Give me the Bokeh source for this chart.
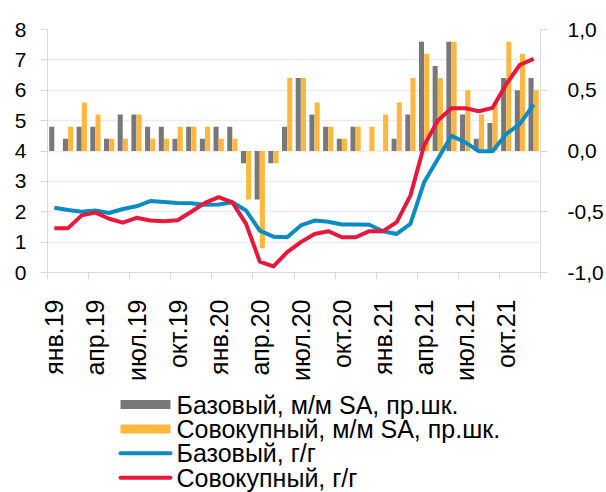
from bokeh.plotting import figure
from bokeh.layouts import column
from bokeh.models import Range1d, LinearAxis, FixedTicker, ColumnDataSource
from bokeh.core.properties import value
from bokeh.embed import file_html
from bokeh.resources import INLINE

months = ["янв.19", "фев.19", "мар.19", "апр.19", "май.19", "июн.19", "июл.19", "авг.19", "сен.19", "окт.19", "ноя.19", "дек.19",
          "янв.20", "фев.20", "мар.20", "апр.20", "май.20", "июн.20", "июл.20", "авг.20", "сен.20", "окт.20", "ноя.20", "дек.20",
          "янв.21", "фев.21", "мар.21", "апр.21", "май.21", "июн.21", "июл.21", "авг.21", "сен.21", "окт.21", "ноя.21", "дек.21"]

core_mm = [0.2, 0.1, 0.2, 0.2, 0.1, 0.3, 0.3, 0.2, 0.2, 0.1, 0.2, 0.1,
           0.2, 0.2, -0.1, -0.4, -0.1, 0.2, 0.6, 0.3, 0.2, 0.1, 0.2, 0.0,
           0.0, 0.1, 0.3, 0.9, 0.7, 0.9, 0.3, 0.1, 0.23, 0.6, 0.5, 0.6]
headline_mm = [0.0, 0.2, 0.4, 0.3, 0.1, 0.1, 0.3, 0.1, 0.1, 0.2, 0.2, 0.2,
               0.1, 0.1, -0.4, -0.8, -0.1, 0.6, 0.6, 0.4, 0.2, 0.1, 0.2, 0.2,
               0.3, 0.4, 0.6, 0.8, 0.6, 0.9, 0.5, 0.3, 0.4, 0.9, 0.8, 0.5]
core_yy = [2.13, 2.06, 2.00, 2.04, 1.96, 2.09, 2.18, 2.35, 2.32, 2.29, 2.28, 2.23,
           2.24, 2.31, 2.04, 1.38, 1.18, 1.16, 1.55, 1.71, 1.67, 1.58, 1.58, 1.57,
           1.36, 1.27, 1.60, 2.97, 3.74, 4.50, 4.29, 3.99, 3.99, 4.56, 4.89, 5.53]
headline_yy = [1.46, 1.46, 1.88, 1.97, 1.77, 1.64, 1.80, 1.71, 1.69, 1.72, 2.00, 2.29,
               2.48, 2.31, 1.60, 0.36, 0.20, 0.67, 1.00, 1.27, 1.36, 1.16, 1.16, 1.36,
               1.36, 1.66, 2.53, 4.18, 5.00, 5.41, 5.41, 5.31, 5.42, 6.20, 6.84, 7.03]

left_ticks = [0, 1, 2, 3, 4, 5, 6, 7, 8]
right_ticks = [-1.0, -0.5, 0.0, 0.5, 1.0]
right_labels = ["-1,0", "-0,5", "0,0", "0,5", "1,0"]
label_every = 3
legend_labels = ["Базовый, м/м SA, пр.шк.", "Совокупный, м/м SA, пр.шк.", "Базовый, г/г", "Совокупный, г/г"]

FONT = "Liberation Sans"
GRAY = "#78787b"
ORANGE = "#ffb83f"
BLUE = "#0a8bc2"
RED = "#e8173c"
AXIS_C = "#d9d9d9"
GRID_C = "#ececec"

W = 606
BORDER_L, BORDER_R = 47, 66
CHART_H, LEGEND_H = 384, 108

n = len(months)
xc = [i + 0.5 for i in range(n)]
off = 0.19
src = ColumnDataSource(dict(
    xg=[x - off for x in xc], xo=[x + off for x in xc], x=xc,
    core_mm=core_mm, headline_mm=headline_mm, core_yy=core_yy, headline_yy=headline_yy))

p = figure(width=W, height=CHART_H, output_backend="svg", toolbar_location=None,
           x_range=Range1d(0, n), y_range=Range1d(0, 8),
           min_border_left=BORDER_L, min_border_right=BORDER_R, min_border_top=29, min_border_bottom=112)
p.extra_y_ranges = {"right": Range1d(-1, 1)}
p.outline_line_color = None
p.background_fill_color = "white"
p.border_fill_color = "white"

p.xaxis.visible = False
p.yaxis.visible = False

xax = LinearAxis()
xax.ticker = FixedTicker(ticks=[xc[i] for i in range(0, n, label_every)],
                         minor_ticks=[float(i) for i in range(0, n + 1, label_every)])
xax.major_label_overrides = {xc[i]: months[i] for i in range(0, n, label_every)}
xax.major_label_orientation = 3.14159265 / 2
xax.major_tick_in = 0
xax.major_tick_out = 0
xax.minor_tick_in = 0
xax.minor_tick_out = 7
xax.minor_tick_line_color = AXIS_C
xax.axis_line_color = AXIS_C
xax.major_label_text_font = FONT
xax.major_label_text_font_size = "25px"
xax.major_label_text_color = "black"
xax.major_label_standoff = 20
p.add_layout(xax, "below")

lax = LinearAxis()
lax.ticker = FixedTicker(ticks=left_ticks)
lax.major_tick_in = 0
lax.major_tick_out = 7
lax.minor_tick_out = 0
lax.minor_tick_in = 0
lax.major_tick_line_color = AXIS_C
lax.axis_line_color = AXIS_C
lax.major_label_text_font = FONT
lax.major_label_text_font_size = "21px"
lax.major_label_text_color = "black"
lax.major_label_standoff = 14
p.add_layout(lax, "left")

rax = LinearAxis(y_range_name="right")
rax.ticker = FixedTicker(ticks=right_ticks)
rax.major_label_overrides = {t: l for t, l in zip(right_ticks, right_labels)}
rax.major_tick_in = 0
rax.major_tick_out = 7
rax.minor_tick_out = 0
rax.minor_tick_in = 0
rax.major_tick_line_color = AXIS_C
rax.axis_line_color = AXIS_C
rax.major_label_text_font = FONT
rax.major_label_text_font_size = "21px"
rax.major_label_text_color = "black"
rax.major_label_standoff = 20
p.add_layout(rax, "right")

p.xgrid.visible = False
p.ygrid.ticker = FixedTicker(ticks=left_ticks)
p.ygrid.grid_line_color = GRID_C
p.ygrid.grid_line_width = 1.5

bw = 0.37
p.vbar(x="xg", top="core_mm", bottom=0, width=bw, source=src, y_range_name="right",
       fill_color=GRAY, line_color=None)
p.vbar(x="xo", top="headline_mm", bottom=0, width=bw, source=src, y_range_name="right",
       fill_color=ORANGE, line_color=None)
p.line(x="x", y="core_yy", source=src, line_color=BLUE, line_width=4, line_join="round")
p.line(x="x", y="headline_yy", source=src, line_color=RED, line_width=4, line_join="round")

# Legend panel: a frame whose units are pixels (x = page x, y = px from the panel top)
lg = figure(width=W, height=LEGEND_H, output_backend="svg", toolbar_location=None,
            x_range=Range1d(BORDER_L, W - BORDER_R), y_range=Range1d(LEGEND_H, 0),
            min_border_left=BORDER_L, min_border_right=BORDER_R, min_border_top=0, min_border_bottom=0)
lg.xaxis.visible = False
lg.yaxis.visible = False
lg.xgrid.visible = False
lg.ygrid.visible = False
lg.outline_line_color = None
lg.background_fill_color = "white"
lg.border_fill_color = "white"

key_x0, key_w, row0, row_h, text_gap = 120, 50, 20, 24.4, 6
rows = [row0 + row_h * i for i in range(len(legend_labels))]
lg.rect(x=[key_x0 + key_w / 2] * 2, y=rows[:2], width=key_w, height=9,
        fill_color=[GRAY, ORANGE], line_color=None)
lg.segment(x0=[key_x0] * 2, x1=[key_x0 + key_w] * 2, y0=rows[2:], y1=rows[2:],
           line_color=[BLUE, RED], line_width=4, line_cap="round")
lg.text(x=[key_x0 + key_w + text_gap] * 4, y=rows, text=legend_labels,
        text_font=value(FONT), text_font_size="25px", text_color="black",
        text_baseline="middle", text_align="left")

layout = column(p, lg, spacing=0)
open("out.html", "w").write(file_html(layout, INLINE))
